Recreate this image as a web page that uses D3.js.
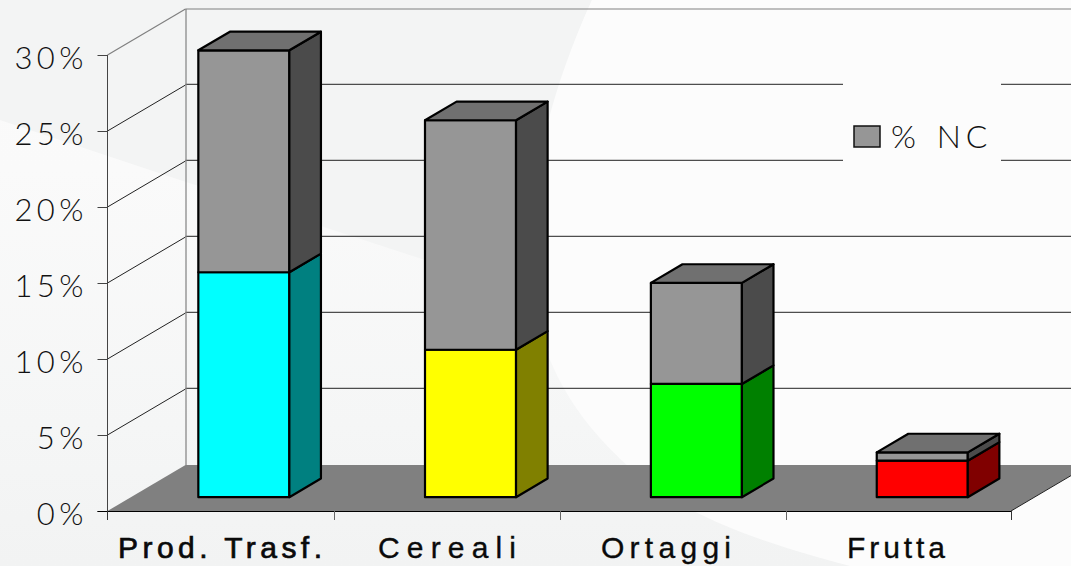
<!DOCTYPE html>
<html><head><meta charset="utf-8">
<script src="https://cdn.jsdelivr.net/npm/d3@7"></script>
<style>html,body{margin:0;padding:0;background:#fff}svg{display:block}</style></head>
<body><svg id="c" width="1071" height="566"></svg>
<script>
const categories=["Prod. Trasf.","Cereali","Ortaggi","Frutta"];
const baseValues=[14.8,9.7,7.45,2.4];
const ncValues=[14.6,15.1,6.65,0.55];
const baseColors=["#00ffff","#ffff00","#00ff00","#ff0000"];
const sideColors=["#008080","#808000","#008000","#800000"];
const yTicks=[0,5,10,15,20,25,30];
const ncLabel="% NC";

const svg=d3.select("#c");
const defs=svg.append("defs");
const g1=defs.append("linearGradient").attr("id","bg").attr("x1",0).attr("y1",0).attr("x2",0).attr("y2",1);
g1.append("stop").attr("offset",0).attr("stop-color","#fbfbfb");
g1.append("stop").attr("offset",0.3).attr("stop-color","#fafafa");
g1.append("stop").attr("offset",0.75).attr("stop-color","#f5f6f6");
g1.append("stop").attr("offset",1).attr("stop-color","#f2f3f3");

svg.append("rect").attr("width",1071).attr("height",566).attr("fill","url(#bg)");
// darker upper-left wedge
svg.append("path").attr("fill","#f3f4f4")
  .attr("d","M0,0L592,0C565,60 540,130 530,300L425,260L180,180L0,120Z");
// light sweep on the right of the curve
svg.append("path").attr("fill","#fcfcfc")
  .attr("d","M592,0C565,60 530,150 530,260C532,370 590,440 660,492C720,530 790,550 850,566L1071,566L1071,0Z");

const ox=107.5, floorY=511, plotW=903.5, dxDepth=78, dyDepth=46;
const x=d3.scaleBand().domain(categories).range([ox,ox+plotW]);
const y=d3.scaleLinear().domain([0,30]).range([floorY,55]);
const ink="#000";
const wall="#808080";

// back wall frame + wall gridlines
const grid=svg.append("g");
yTicks.slice(1,6).forEach(t=>{
  grid.append("line").attr("x1",ox).attr("y1",y(t)).attr("x2",ox+dxDepth).attr("y2",y(t)-dyDepth).attr("stroke","#222").attr("stroke-width",1);
  grid.append("line").attr("x1",ox+dxDepth).attr("y1",y(t)-dyDepth-.7).attr("x2",1071).attr("y2",y(t)-dyDepth-.7).attr("stroke","#222").attr("stroke-width",1);
});
grid.append("line").attr("x1",ox).attr("y1",y(30)).attr("x2",ox+dxDepth).attr("y2",y(30)-dyDepth).attr("stroke",wall).attr("stroke-width",1.2);
grid.append("line").attr("x1",ox+dxDepth).attr("y1",9).attr("x2",1071).attr("y2",9).attr("stroke",wall).attr("stroke-width",1.2);
grid.append("line").attr("x1",ox+dxDepth+.5).attr("y1",9).attr("x2",ox+dxDepth+.5).attr("y2",floorY-dyDepth).attr("stroke",wall).attr("stroke-width",1.2);

// floor
svg.append("polygon").attr("fill","#808080").attr("stroke","none")
  .attr("points",[[ox,floorY],[ox+plotW,floorY],[ox+plotW+dxDepth,floorY-dyDepth],[ox+dxDepth,floorY-dyDepth]].map(p=>p.join(",")).join(" "));
svg.append("line").attr("x1",ox+plotW).attr("y1",floorY).attr("x2",1071).attr("y2",floorY-(1071-ox-plotW)*dyDepth/dxDepth).attr("stroke","#222");

// axes
const yAxisG=svg.append("g").attr("stroke-width",1);
yAxisG.append("line").attr("x1",ox).attr("x2",ox).attr("y1",y(30)).attr("y2",floorY).attr("stroke","#444");
yTicks.forEach(t=>{
  yAxisG.append("line").attr("x1",ox-10).attr("x2",ox).attr("y1",y(t)+.5).attr("y2",y(t)+.5).attr("stroke","#444");
  yAxisG.append("text").attr("x",88).attr("y",y(t)+14).attr("text-anchor","end")
    .attr("font-family","Lato").attr("font-weight",300).attr("font-size",31).attr("letter-spacing",4.5).attr("fill","#111")
    .text(t+"%");
});
svg.append("line").attr("x1",ox-10).attr("x2",ox+plotW).attr("y1",floorY+.5).attr("y2",floorY+.5).attr("stroke",ink);
[...categories.map(c=>x(c)),ox+plotW].forEach((p,i)=>{
  const px=Math.round(p+(i&&i<4?1:0))+.5;
  svg.append("line").attr("x1",i?px:ox).attr("x2",i?px:ox).attr("y1",floorY).attr("y2",floorY+9).attr("stroke",i==0||i==4?"#333":"#666");
});
const labelLeft=[118,378,601,847], labelWidth=[204,138,130,98];
categories.forEach((c,i)=>{
  svg.append("text").attr("x",labelLeft[i]).attr("y",558)
    .attr("font-family","'Liberation Sans'").attr("font-size",30).attr("textLength",labelWidth[i]).attr("lengthAdjust","spacing")
    .attr("fill","#0a0a0a").attr("stroke","#0a0a0a").attr("stroke-width",i==0?0.7:0.35)
    .text(c);
});

// bars
const bw=x.bandwidth()*0.403, off=0.3, d=0.405;
const bars=svg.append("g").attr("stroke","#000").attr("stroke-width",2.2).attr("stroke-linejoin","round");
function box(xl,yBot,yTop,front,side,top){
  const xr=xl+bw, ddx=dxDepth*d, ddy=dyDepth*d;
  const poly=(pts,f)=>bars.append("polygon").attr("points",pts.map(p=>p.join(",")).join(" ")).attr("fill",f);
  poly([[xl,yTop],[xr,yTop],[xr,yBot],[xl,yBot]],front);
  poly([[xr,yTop],[xr+ddx,yTop-ddy],[xr+ddx,yBot-ddy],[xr,yBot]],side);
  if(top) poly([[xl,yTop],[xl+ddx,yTop-ddy],[xr+ddx,yTop-ddy],[xr,yTop]],top);
}
categories.forEach((c,i)=>{
  const xl=x(c)+(x.bandwidth()-bw)/2+dxDepth*off+(i?0.8:0);
  const shift=dyDepth*off;
  const Y=v=>y(v)-shift;
  box(xl,Y(0),Y(baseValues[i]),baseColors[i],sideColors[i],null);
  box(xl,Y(baseValues[i]),Y(baseValues[i]+ncValues[i]),"#969696","#4b4b4b","#707070");
});

// legend
const lg=svg.append("g");
lg.append("rect").attr("x",843).attr("y",62).attr("width",158).attr("height",122).attr("fill","#fcfcfc");
lg.append("rect").attr("x",854).attr("y",126).attr("width",26).attr("height",21).attr("fill","#969696").attr("stroke","#111").attr("stroke-width",1.5);
lg.append("text").attr("x",891).attr("y",148).attr("font-family","Lato").attr("font-weight",300).attr("font-size",32).attr("letter-spacing",5).attr("word-spacing",2).attr("fill","#111").text(ncLabel);
</script></body></html>
